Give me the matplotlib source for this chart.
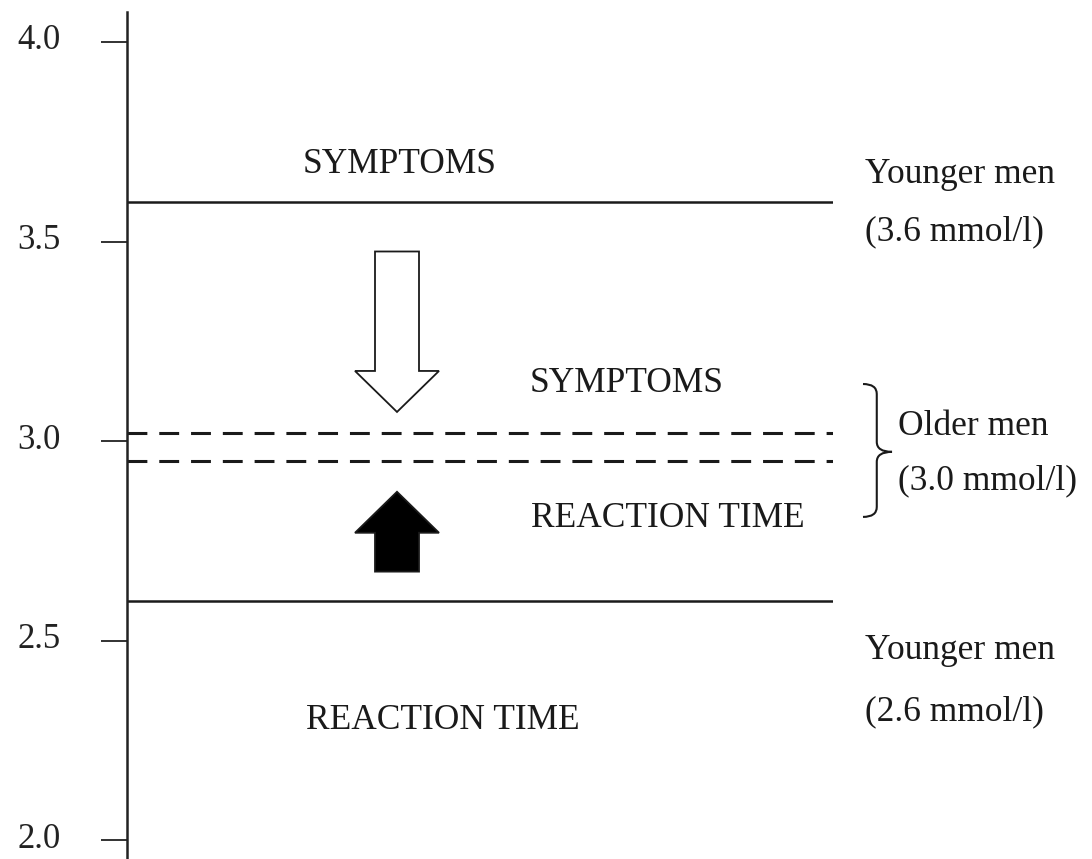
import matplotlib
matplotlib.use("Agg")
import matplotlib.pyplot as plt
import matplotlib.transforms as mtransforms
from matplotlib.patches import Polygon, PathPatch
from matplotlib.path import Path

plt.rcParams['font.family'] = ['Liberation Serif', 'DejaVu Serif']

# ---- data ----
ytick_values = [2.0, 2.5, 3.0, 3.5, 4.0]
ytick_labels = ["2.0", "2.5", "3.0", "3.5", "4.0"]
younger_thresholds = [3.6, 2.6]          # symptoms, reaction time
older_thresholds = [3.02, 2.95]          # symptoms, reaction time (dashed)
younger_labels = [("Younger men", "(3.6 mmol/l)"), ("Younger men", "(2.6 mmol/l)")]
older_label = ("Older men", "(3.0 mmol/l)")
down_arrow = (3.475, 3.073)   # from, to (symptoms shift)
up_arrow = (2.673, 2.873)     # from, to (reaction time shift)

W, H = 1092, 859
fig = plt.figure(figsize=(W / 100, H / 100), dpi=100)
ax = fig.add_axes([127 / W, 0, (833 - 127) / W, 1 - 12 / H])
ax.set_xlim(0, 1)
ax.set_ylim(1.953, 4.075)

for s in ['top', 'right', 'bottom']:
    ax.spines[s].set_visible(False)
ax.spines['left'].set_linewidth(1.8)
ax.spines['left'].set_color('#222222')
ax.set_xticks([])
ax.set_yticks(ytick_values)
ax.set_yticklabels(ytick_labels)
ax.tick_params(axis='y', length=19, width=1.3, pad=26, labelsize=25,
               colors='#222222')
shift = mtransforms.ScaledTranslation(-0.04, 0.05, fig.dpi_scale_trans)
for lbl in ax.get_yticklabels():
    lbl.set_va('center_baseline')
    lbl.set_transform(lbl.get_transform() + shift)

ink = '#1a1a1a'
# solid lines (younger men)
for v in younger_thresholds:
    ax.plot([0, 1], [v, v], color=ink, lw=1.8, solid_capstyle='butt')
# dashed lines (older men)
for v in older_thresholds:
    ax.plot([0, 1], [v, v], color=ink, lw=2.2, linestyle=(0, (6.5, 3.9)))

# arrows
cx = (397 - 127) / 706
shaft = 22 / 706
head = 42 / 706
hl = 41 / 399.2

def arrow(y0, y1, face):
    d = 1 if y1 > y0 else -1
    yb = y1 - d * hl
    pts = [(cx - shaft, y0), (cx + shaft, y0), (cx + shaft, yb), (cx + head, yb),
           (cx, y1), (cx - head, yb), (cx - shaft, yb)]
    ax.add_patch(Polygon(pts, closed=True, facecolor=face, edgecolor=ink,
                         lw=1.3, joinstyle='miter'))

arrow(*down_arrow, 'white')
arrow(*up_arrow, 'black')

fs = 25.5
kw = dict(fontsize=fs, va='baseline', color=ink, clip_on=False)
# texts
ax.text((400 - 127) / 706, 3.672, "SYMPTOMS", ha='center', **kw)
ax.text((627 - 127) / 706, 3.123, "SYMPTOMS", ha='center', **kw)
ax.text((668 - 127) / 706, 2.785, "REACTION TIME", ha='center', **kw)
ax.text((443 - 127) / 706, 2.279, "REACTION TIME", ha='center', **kw)

xr = (865 - 127) / 706
ax.text(xr, 3.647, younger_labels[0][0], ha='left', **kw)
ax.text(xr, 3.504, younger_labels[0][1], ha='left', **kw)
ax.text(xr, 2.454, younger_labels[1][0], ha='left', **kw)
ax.text(xr, 2.301, younger_labels[1][1], ha='left', **kw)
xo = (898 - 127) / 706
ax.text(xo, 3.015, older_label[0], ha='left', **kw)
ax.text(xo, 2.878, older_label[1], ha='left', **kw)

# brace
x0, x1, x2 = 1.0425, 1.062, 1.0836
yt, ym, yb_ = 3.143, 2.973, 2.810
verts = [(x0, yt), (x1, yt), (x1, yt - 0.025),
         (x1, ym + 0.025),
         (x1, ym), (x2, ym),
         (x1, ym), (x1, ym - 0.025),
         (x1, yb_ + 0.025),
         (x1, yb_), (x0, yb_)]
codes = [Path.MOVETO, Path.CURVE3, Path.CURVE3,
         Path.LINETO,
         Path.CURVE3, Path.CURVE3,
         Path.CURVE3, Path.CURVE3,
         Path.LINETO,
         Path.CURVE3, Path.CURVE3]
ax.add_patch(PathPatch(Path(verts, codes), facecolor='none', edgecolor=ink,
                       lw=1.5, clip_on=False))

fig.savefig("out.png", dpi=100)
